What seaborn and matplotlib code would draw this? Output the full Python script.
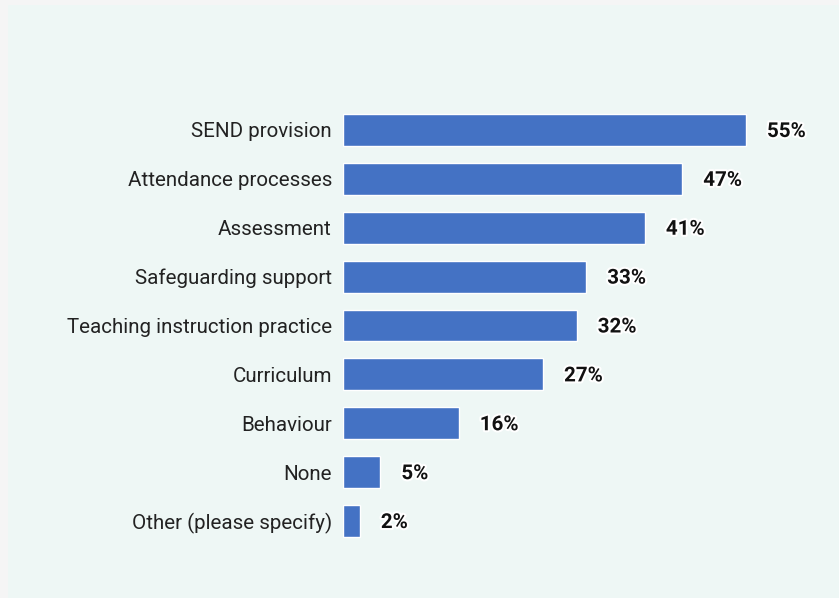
import matplotlib
matplotlib.use("Agg")
import matplotlib.pyplot as plt
import matplotlib.patheffects as pe
from matplotlib.patches import Rectangle
import seaborn as sns
import pandas as pd

categories = ["SEND provision", "Attendance processes", "Assessment", "Safeguarding support",
              "Teaching instruction practice", "Curriculum", "Behaviour", "None",
              "Other (please specify)"]
values = [55, 46.3, 41.2, 33.2, 31.9, 27.3, 15.8, 5.1, 2.3]
value_labels = ["55%", "47%", "41%", "33%", "32%", "27%", "16%", "5%", "2%"]

df = pd.DataFrame({"category": categories, "value": values})

sns.set_theme(style="white")
plt.rcParams['font.family'] = ['Roboto', 'DejaVu Sans']

W, H = 839, 598
fig = plt.figure(figsize=(W / 100, H / 100), dpi=100, facecolor="#f5f5f5")
fig.patches.append(Rectangle((8 / W, 0), 1, (598 - 5) / H,
                             transform=fig.transFigure, facecolor="#eef7f5",
                             edgecolor="none", zorder=-5))

px_per = (746 - 343) / 55.0
xmax = 65
left = 343 / W
right_px = 343 + xmax * px_per
top_px = 130 - 48.9 / 2
bot_px = 521 + 48.9 / 2
ax = fig.add_axes([left, 1 - bot_px / H, (right_px - 343) / W, (bot_px - top_px) / H])
ax.set_facecolor("none")
ax.set_zorder(2)

sns.barplot(data=df, x="value", y="category", orient="h", color="#4472C4",
            saturation=1, width=0.65, ax=ax)
ax.set_xlim(0, xmax)
ax.set_ylim(8.5, -0.5)

for i, (v, lab) in enumerate(zip(values, value_labels)):
    ax.annotate(lab, xy=(v, i), xytext=(21, -1.5), textcoords="offset pixels",
                va="center", ha="left", fontsize=14.8, fontweight="bold", color="#111111",
                path_effects=[pe.withStroke(linewidth=3, foreground="white")])

ax.set_xlabel("")
ax.set_ylabel("")
ax.set_xticks([])
ax.tick_params(axis="y", length=0, pad=8, labelsize=14.8, labelcolor="#222222")
for s in ax.spines.values():
    s.set_visible(False)

fig.savefig("out.png", dpi=100, facecolor=fig.get_facecolor())
